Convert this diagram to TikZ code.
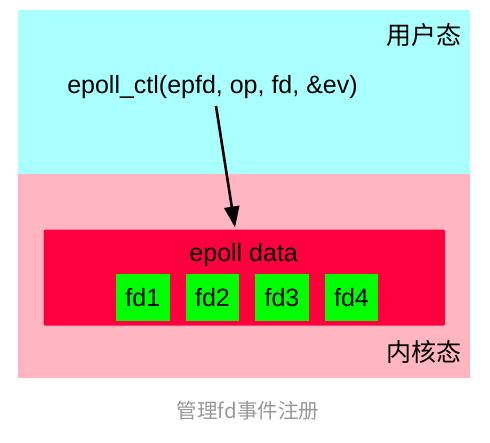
\documentclass[tikz,border=0pt]{standalone}
\usepackage{fontspec}
\setmainfont{Liberation Sans}
\newfontfamily\cjk{Noto Sans CJK SC}
\usetikzlibrary{arrows.meta}
\definecolor{usercol}{HTML}{AAFFFF}
\definecolor{kernelcol}{HTML}{FFB6C1}
\definecolor{datacol}{HTML}{FF003F}
\definecolor{fdcol}{HTML}{00FF00}
\definecolor{capcol}{HTML}{999999}
\tikzset{
  region/.style={draw=none, inner sep=0pt, anchor=north west},
  fdbox/.style={fill=fdcol, minimum width=53.6pt, minimum height=47.3pt, inner sep=0pt, font=\fontsize{25}{28}\selectfont},
  lbl/.style={inner sep=0pt, anchor=base, font=\fontsize{25}{28}\selectfont},
  cjklbl/.style={inner sep=0pt, anchor=base, font=\cjk\fontsize{25}{28}\selectfont},
  callarrow/.style={line width=2.6pt, -{Triangle[length=21pt,width=15pt]}, shorten >=0pt}
}
\begin{document}
\begin{tikzpicture}[x=1pt,y=-1pt]
\useasboundingbox (0,0) rectangle (490,443);
\fill[white] (0,0) rectangle (490,443);
\node[region, fill=usercol, minimum width=452pt, minimum height=164pt] (user) at (18,10) {};
\node[region, fill=kernelcol, minimum width=452pt, minimum height=204pt] (kernel) at (18,174) {};
\node[region, fill=datacol, rounded corners=2pt, minimum width=401.7pt, minimum height=96pt] (data) at (43.3,229.5) {};
\node[lbl] (datalbl) at (243.7,261.5) {epoll data};
\node[fdbox] (fd1) at (142.8,297.3) {fd1};
\node[fdbox] (fd2) at (212.5,297.3) {fd2};
\node[fdbox] (fd3) at (282,297.3) {fd3};
\node[fdbox] (fd4) at (351.5,297.3) {fd4};
\node[lbl] (ctl) at (212.5,94) {epoll\_ctl(epfd, op, fd, \&ev)};
\node[cjklbl] (userlbl) at (424,45) {用户态};
\node[cjklbl] (kernellbl) at (424.3,362) {内核态};
\node[inner sep=0pt, anchor=base, text=capcol, font=\cjk\fontsize{20.5}{24}\selectfont] (cap) at (248,418) {管理fd事件注册};
\coordinate (from) at (216,106);
\coordinate (to) at (235,227.5);
\draw[callarrow] (from) -- (to);
\end{tikzpicture}
\end{document}
